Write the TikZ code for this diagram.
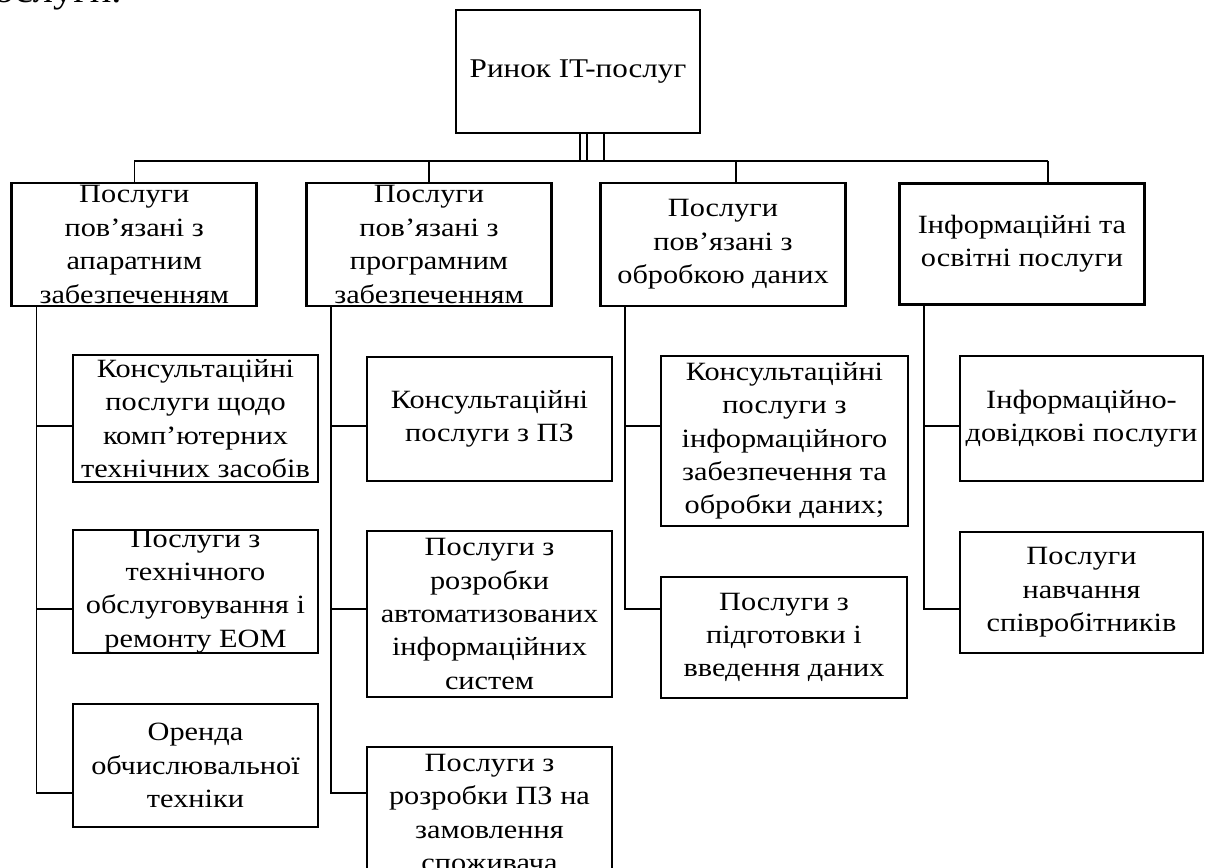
\documentclass[tikz,border=0pt]{standalone}
\usepackage{fontspec}
\setmainfont[FakeStretch=1.15]{Liberation Serif}
\usetikzlibrary{calc}
\usetikzlibrary{positioning}

\tikzset{
  box/.style={draw, line width=1.6pt, minimum width=4.9cm, inner sep=0pt, align=center,
    font=\fontsize{15}{19}\selectfont},
  link/.style={line width=0.8pt},
}

\begin{document}
\begin{tikzpicture}[x=0.02cm,y=-0.02cm]
\useasboundingbox (0,0) rectangle (1206,868);
\clip (0,0) rectangle (1206,868);

\node[anchor=base east, inner sep=0pt, font=\fontsize{20}{24}\selectfont] (note) at (122,3) {послуги.};

% root
\node[box, minimum width=4.88cm, minimum height=2.46cm, font=\fontsize{15.4}{19}\selectfont] (top) at (578,71.5) {Ринок IT-послуг};

% first level
\node[box, minimum height=2.46cm] (h1) at (134.25,244.5) {Послуги\\пов’язані з\\апаратним\\забезпеченням};
\node[box, minimum height=2.46cm] (h2) at (429,244.5) {Послуги\\пов’язані з\\програмним\\забезпеченням};
\node[box, minimum height=2.46cm] (h3) at (723,244.5) {Послуги\\пов’язані з\\обробкою даних};
\node[box, minimum height=2.42cm] (h4) at (1022,244) {Інформаційні та\\освітні послуги};

% second level
\node[box, minimum height=2.54cm] (s11) at (195.5,418.5) {Консультаційні\\послуги щодо\\комп'ютерних\\технічних засобів};
\node[box, minimum height=2.42cm] (s12) at (195.5,591.5) {Послуги з\\технічного\\обслуговування і\\ремонту ЕОМ};
\node[box, minimum height=2.46cm] (s13) at (195.5,765.5) {Оренда\\обчислювальної\\техніки};

\node[box, minimum height=2.48cm] (s21) at (489.5,419) {Консультаційні\\послуги з ПЗ};
\node[box, minimum height=3.32cm] (s22) at (489.5,614) {Послуги з\\розробки\\автоматизованих\\інформаційних\\систем};
\node[box, minimum height=2.64cm] (s23) at (489.5,813) {Послуги з\\розробки ПЗ на\\замовлення\\споживача};

\node[box, minimum width=4.94cm, minimum height=3.4cm] (s31) at (784.5,441) {Консультаційні\\послуги з\\інформаційного\\забезпечення та\\обробки даних;};
\node[box, minimum width=4.92cm, minimum height=2.42cm] (s32) at (784,637.5) {Послуги з\\підготовки і\\введення даних};

\node[box, minimum width=4.86cm, minimum height=2.5cm] (s41) at (1081.5,418.5) {Інформаційно-\\довідкові послуги};
\node[box, minimum width=4.86cm, minimum height=2.42cm] (s42) at (1081.5,592.5) {Послуги\\навчання\\співробітників};

% bus and rows
\coordinate (bus) at (0,161);
\coordinate (r1) at (0,426);
\coordinate (r2) at (0,609);
\coordinate (r3) at (0,793);

\foreach \dx in {2,9,26}
  \draw[link] ($(top.south)+(\dx,0)$) -- ($(top.south |- bus)+(\dx,0)$);
\draw[link] (h1.north |- bus) -- ($(h4.north |- bus)+(26,0)$);
\draw[link] (h1.north |- bus) -- (h1.north);
\draw[link] (h2.north |- bus) -- (h2.north);
\draw[link] ($(h3.north |- bus)+(13,0)$) -- ($(h3.north)+(13,0)$);
\draw[link] ($(h4.north |- bus)+(26,0)$) -- ($(h4.north)+(26,0)$);

\foreach \h/\s/\r in {h1/s11/r1, h1/s12/r2, h1/s13/r3, h2/s21/r1, h2/s22/r2, h2/s23/r3, h3/s31/r1, h3/s32/r2, h4/s41/r1, h4/s42/r2}
  \draw[link] ($(\h.south west)+(26,0)$) |- (\s.west |- \r);
\end{tikzpicture}
\end{document}
